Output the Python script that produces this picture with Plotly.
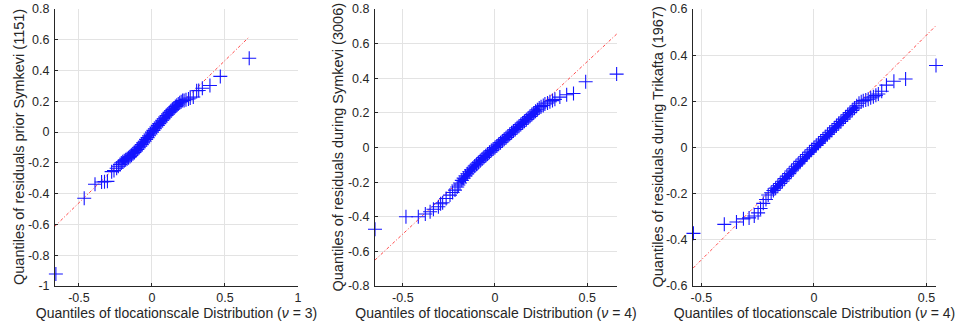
import plotly.graph_objects as go

# ---------------- data ----------------
# Panel 1: residuals prior Symkevi (n=1151), t location-scale nu=3
p1_body_x = [-0.21, -0.20, -0.19, -0.18, -0.17, -0.16, -0.15, -0.14, -0.13, -0.12, -0.11,
             -0.10, -0.09, -0.08, -0.07, -0.06, -0.05, -0.04, -0.03, -0.02, -0.01, 0.00,
             0.01, 0.02, 0.03, 0.04, 0.05, 0.06, 0.07, 0.08, 0.09, 0.10, 0.11, 0.12,
             0.13, 0.14, 0.15, 0.16, 0.17, 0.18, 0.19, 0.20, 0.21]
p1_body_y = [-0.200, -0.193, -0.186, -0.180, -0.173, -0.166, -0.158, -0.150, -0.141, -0.132, -0.122,
             -0.112, -0.102, -0.092, -0.081, -0.070, -0.059, -0.047, -0.036, -0.024, -0.012, 0.000,
             0.011, 0.022, 0.033, 0.044, 0.055, 0.066, 0.077, 0.087, 0.098, 0.108, 0.118, 0.128,
             0.138, 0.148, 0.157, 0.166, 0.175, 0.183, 0.191, 0.198, 0.205]
p1_tail_x = [-0.658, -0.464, -0.390, -0.345, -0.325, -0.305, -0.276, -0.260, -0.242, -0.230, -0.219,
             0.220, 0.233, 0.250, 0.262, 0.283, 0.306, 0.320, 0.345, 0.397, 0.468, 0.666]
p1_tail_y = [-0.922, -0.430, -0.339, -0.324, -0.322, -0.320, -0.257, -0.250, -0.235, -0.222, -0.210,
             0.205, 0.210, 0.215, 0.222, 0.228, 0.269, 0.270, 0.285, 0.303, 0.362, 0.480]
p1_line_x = [-0.665, 0.665]
p1_line_y = [-0.612, 0.618]

# Panel 2: residuals during Symkevi (n=3006), nu=4
p2_body_x = [-0.19, -0.18, -0.17, -0.16, -0.15, -0.14, -0.13, -0.12, -0.11, -0.10, -0.09,
             -0.08, -0.07, -0.06, -0.05, -0.04, -0.03, -0.02, -0.01, 0.00, 0.01, 0.02,
             0.03, 0.04, 0.05, 0.06, 0.07, 0.08, 0.09, 0.10, 0.11, 0.12, 0.13, 0.14,
             0.15, 0.16, 0.17, 0.18, 0.19, 0.20, 0.21, 0.22, 0.23, 0.24]
p2_body_y = [-0.205, -0.190, -0.177, -0.164, -0.152, -0.140, -0.129, -0.118, -0.107, -0.097, -0.087,
             -0.077, -0.067, -0.057, -0.047, -0.037, -0.027, -0.018, -0.009, 0.000, 0.009, 0.019,
             0.028, 0.038, 0.047, 0.057, 0.066, 0.076, 0.085, 0.095, 0.104, 0.114, 0.123, 0.133,
             0.142, 0.152, 0.161, 0.171, 0.180, 0.190, 0.199, 0.209, 0.218, 0.228]
p2_tail_x = [-0.651, -0.483, -0.416, -0.378, -0.352, -0.334, -0.307, -0.295, -0.284, -0.265,
             -0.244, -0.230, -0.217, -0.205, -0.199,
             0.250, 0.262, 0.271, 0.285, 0.298, 0.312, 0.325, 0.352, 0.389, 0.426, 0.492, 0.660]
p2_tail_y = [-0.472, -0.400, -0.400, -0.384, -0.371, -0.357, -0.342, -0.325, -0.319, -0.295,
             -0.275, -0.260, -0.246, -0.228, -0.217,
             0.236, 0.243, 0.251, 0.257, 0.264, 0.271, 0.278, 0.291, 0.305, 0.312, 0.380, 0.424]
p2_line_x = [-0.651, 0.660]
p2_line_y = [-0.650, 0.655]

# Panel 3: residuals during Trikafta (n=1967), nu=4
p3_body_x = [-0.19, -0.18, -0.17, -0.16, -0.15, -0.14, -0.13, -0.12, -0.11, -0.10, -0.09,
             -0.08, -0.07, -0.06, -0.05, -0.04, -0.03, -0.02, -0.01, 0.00, 0.01, 0.02,
             0.03, 0.04, 0.05, 0.06, 0.07, 0.08, 0.09, 0.10, 0.11, 0.12, 0.13, 0.14,
             0.15, 0.16, 0.17, 0.18, 0.19]
p3_body_y = [-0.196, -0.186, -0.176, -0.166, -0.156, -0.146, -0.135, -0.124, -0.113, -0.102, -0.092,
             -0.081, -0.071, -0.060, -0.050, -0.040, -0.030, -0.020, -0.010, -0.001, 0.009, 0.018,
             0.028, 0.037, 0.047, 0.056, 0.066, 0.075, 0.085, 0.094, 0.104, 0.113, 0.123, 0.132,
             0.142, 0.151, 0.161, 0.171, 0.181]
p3_tail_x = [-0.535, -0.398, -0.344, -0.313, -0.288, -0.265, -0.248, -0.237, -0.225, -0.213, -0.203,
             0.200, 0.210, 0.219, 0.230, 0.241, 0.252, 0.264, 0.275, 0.286, 0.301, 0.322, 0.355,
             0.407, 0.542]
p3_tail_y = [-0.372, -0.333, -0.323, -0.309, -0.305, -0.297, -0.283, -0.264, -0.242, -0.225, -0.206,
             0.192, 0.198, 0.203, 0.206, 0.209, 0.215, 0.220, 0.226, 0.232, 0.244, 0.270, 0.287,
             0.297, 0.355]
p3_line_x = [-0.536, 0.542]
p3_line_y = [-0.522, 0.528]

y_titles = ["Quantiles of residuals prior Symkevi (1151)",
            "Quantiles of residuals during Symkevi (3006)",
            "Quantiles of residuals during Trikafta (1967)"]
nu_values = [3, 4, 4]
x_ranges = [[-0.664, 1.0], [-0.651, 0.662], [-0.537, 0.542]]
y_ranges = [[-1.0, 0.8], [-0.8, 0.8], [-0.6, 0.6]]
x_ticks = [[-0.5, 0, 0.5, 1], [-0.5, 0, 0.5], [-0.5, 0, 0.5]]
y_ticks = [[-1, -0.8, -0.6, -0.4, -0.2, 0, 0.2, 0.4, 0.6, 0.8],
           [-0.8, -0.6, -0.4, -0.2, 0, 0.2, 0.4, 0.6, 0.8],
           [-0.6, -0.4, -0.2, 0, 0.2, 0.4, 0.6]]

W, H = 963, 331
x_domains = [[55 / W, 298 / W], [375 / W, 617 / W], [693 / W, 936 / W]]
y_domain = [1 - 286 / H, 1 - 9 / H]
y_title_x = [18.5 / W, 337 / W, 657 / W]

panels = [
    (p1_body_x, p1_body_y, p1_tail_x, p1_tail_y, p1_line_x, p1_line_y),
    (p2_body_x, p2_body_y, p2_tail_x, p2_tail_y, p2_line_x, p2_line_y),
    (p3_body_x, p3_body_y, p3_tail_x, p3_tail_y, p3_line_x, p3_line_y),
]

def fmt(v):
    return ("%g" % v)

FONT = "Liberation Sans, Arial, sans-serif"
txt_color = "#262626"
blue = "rgb(20,20,255)"
fig = go.Figure()
for i, (bx, by, tx, ty, lx, ly) in enumerate(panels):
    xa = "x" if i == 0 else "x%d" % (i + 1)
    ya = "y" if i == 0 else "y%d" % (i + 1)
    fig.add_trace(go.Scatter(x=lx, y=ly, mode="lines", xaxis=xa, yaxis=ya,
                             line=dict(color="rgba(255,40,40,0.85)", width=1, dash="3px,2px,1px,2px"),
                             showlegend=False, hoverinfo="skip"))
    fig.add_trace(go.Scatter(x=bx, y=by, mode="lines", xaxis=xa, yaxis=ya,
                             line=dict(color=blue, width=6), showlegend=False, hoverinfo="skip"))
    fig.add_trace(go.Scatter(x=bx + tx, y=by + ty, mode="markers", xaxis=xa, yaxis=ya,
                             cliponaxis=False,
                             marker=dict(symbol="cross-thin", size=10,
                                         line=dict(color=blue, width=1.1)),
                             showlegend=False))
    ax_common = dict(showline=True, linecolor=txt_color, linewidth=1, mirror=False,
                     showgrid=True, gridcolor="#e3e3e3", gridwidth=1, zeroline=False,
                     ticks="inside", ticklen=3, tickcolor=txt_color, automargin=False,
                     tickfont=dict(family=FONT, size=12.5, color=txt_color))
    fig.layout[("xaxis" if i == 0 else "xaxis%d" % (i + 1))] = dict(
        ax_common, domain=x_domains[i], range=x_ranges[i], anchor=ya,
        tickvals=x_ticks[i], ticktext=[fmt(v) for v in x_ticks[i]],
        title=dict(text="Quantiles of tlocationscale Distribution (<i>ν</i> = %d)" % nu_values[i],
                   font=dict(family=FONT, size=14, color=txt_color),
                   standoff=4))
    fig.layout[("yaxis" if i == 0 else "yaxis%d" % (i + 1))] = dict(
        ax_common, domain=y_domain, range=y_ranges[i], anchor=xa,
        tickvals=y_ticks[i], ticktext=[fmt(v) for v in y_ticks[i]],
        ticklabelstandoff=2)
    fig.add_annotation(text=y_titles[i], xref="paper", yref="paper",
                       x=y_title_x[i], y=(y_domain[0] + y_domain[1]) / 2,
                       xanchor="center", yanchor="middle", textangle=-90, showarrow=False,
                       font=dict(family=FONT, size=14.5, color=txt_color))

fig.update_layout(width=W, height=H, margin=dict(l=0, r=0, t=0, b=0),
                  paper_bgcolor="white", plot_bgcolor="white",
                  font=dict(family=FONT, color=txt_color))
fig.write_html("out.html", config={"displayModeBar": False},
               post_script="document.body.style.margin='0px';document.body.style.overflow='hidden';")
